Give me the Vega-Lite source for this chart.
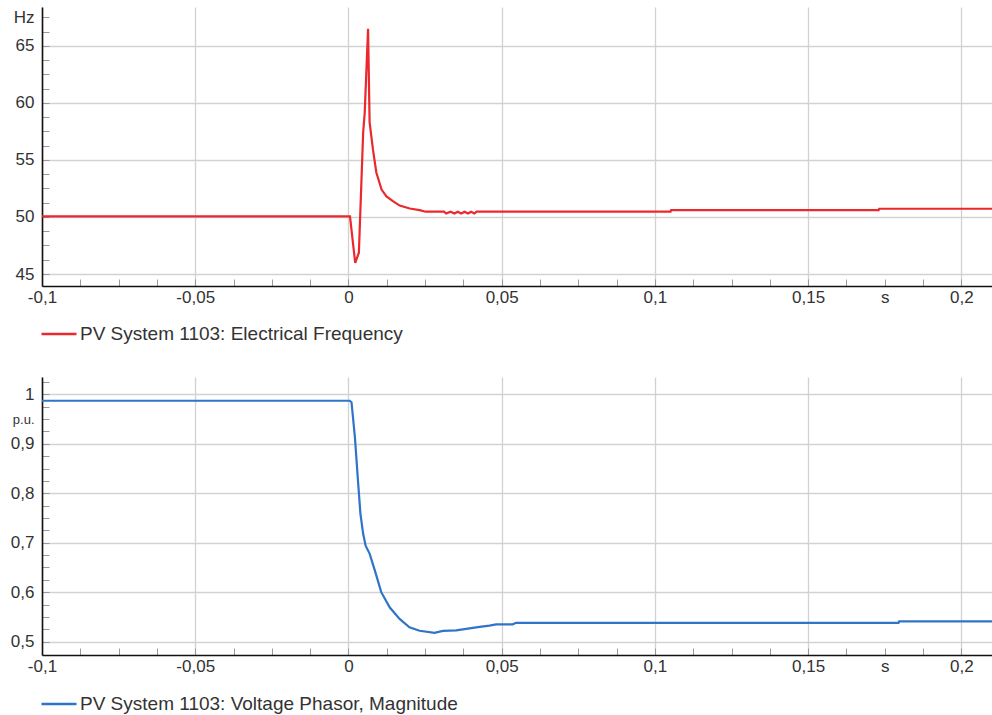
{
  "$schema": "https://vega.github.io/schema/vega-lite/v6.json",
  "padding": {"left": 10, "top": 7, "right": 0, "bottom": 0},
  "background": "white",
  "spacing": 28,
  "config": {
    "font": "Liberation Sans",
    "view": {"stroke": null},
    "axis": {
      "labelFont": "Liberation Sans",
      "labelFontSize": 17,
      "labelColor": "#333333",
      "labelOverlap": false,
      "labelFlush": false,
      "domainColor": "#111111",
      "domainWidth": 1.6,
      "tickColor": "#9a9a9a",
      "tickWidth": 1,
      "tickSize": -7,
      "gridColor": "#d2d2d2",
      "gridWidth": 1.3,
      "title": null
    },
    "legend": {
      "orient": "none",
      "legendX": -2,
      "legendY": 308,
      "title": null,
      "symbolType": "stroke",
      "symbolSize": 1225,
      "symbolStrokeWidth": 2.5,
      "labelFont": "Liberation Sans",
      "labelFontSize": 19,
      "labelColor": "#333333",
      "labelOffset": 2,
      "labelLimit": 0,
      "padding": 0
    }
  },
  "datasets": {
    "freq": [
      {"t": -0.1, "f": 50.05},
      {"t": 0.0005, "f": 50.05},
      {"t": 0.0022, "f": 45.98},
      {"t": 0.0034, "f": 46.87},
      {"t": 0.0048, "f": 57.4},
      {"t": 0.0053, "f": 59.1},
      {"t": 0.0064, "f": 66.5},
      {"t": 0.0069, "f": 58.3},
      {"t": 0.008, "f": 55.9},
      {"t": 0.0091, "f": 53.9},
      {"t": 0.0108, "f": 52.4},
      {"t": 0.0124, "f": 51.8},
      {"t": 0.0145, "f": 51.38},
      {"t": 0.0167, "f": 51.0},
      {"t": 0.02, "f": 50.74},
      {"t": 0.0232, "f": 50.6},
      {"t": 0.0252, "f": 50.46},
      {"t": 0.0312, "f": 50.46},
      {"t": 0.0319, "f": 50.3},
      {"t": 0.0333, "f": 50.46},
      {"t": 0.0346, "f": 50.3},
      {"t": 0.0357, "f": 50.46},
      {"t": 0.0368, "f": 50.3},
      {"t": 0.0379, "f": 50.46},
      {"t": 0.039, "f": 50.3},
      {"t": 0.04, "f": 50.46},
      {"t": 0.0411, "f": 50.3},
      {"t": 0.0418, "f": 50.46},
      {"t": 0.1051, "f": 50.46},
      {"t": 0.1053, "f": 50.6},
      {"t": 0.173, "f": 50.6},
      {"t": 0.1732, "f": 50.72},
      {"t": 0.21, "f": 50.72}
    ],
    "volt": [
      {"t": -0.1, "v": 0.987},
      {"t": 0.0004, "v": 0.987},
      {"t": 0.001, "v": 0.984},
      {"t": 0.0021, "v": 0.914},
      {"t": 0.0031, "v": 0.826},
      {"t": 0.0039, "v": 0.759},
      {"t": 0.0048, "v": 0.718},
      {"t": 0.0056, "v": 0.694},
      {"t": 0.0069, "v": 0.678},
      {"t": 0.0086, "v": 0.644},
      {"t": 0.0107, "v": 0.6},
      {"t": 0.0135, "v": 0.569},
      {"t": 0.0167, "v": 0.546},
      {"t": 0.0199, "v": 0.529},
      {"t": 0.0232, "v": 0.522},
      {"t": 0.0281, "v": 0.5176},
      {"t": 0.0308, "v": 0.5217},
      {"t": 0.0352, "v": 0.5229},
      {"t": 0.0384, "v": 0.5257},
      {"t": 0.0428, "v": 0.5298},
      {"t": 0.046, "v": 0.5324},
      {"t": 0.0482, "v": 0.535},
      {"t": 0.0536, "v": 0.535},
      {"t": 0.0547, "v": 0.538},
      {"t": 0.1795, "v": 0.538},
      {"t": 0.1797, "v": 0.541},
      {"t": 0.21, "v": 0.541}
    ]
  },
  "resolve": {"scale": {"color": "independent", "y": "independent"}, "legend": {"color": "independent"}},
  "vconcat": [
    {
      "width": 950,
      "height": 279,
      "data": {"name": "freq"},
      "mark": {"type": "line", "strokeWidth": 2.2, "clip": true},
      "encoding": {
        "x": {
          "field": "t",
          "type": "quantitative",
          "scale": {"domain": [-0.1, 0.21], "nice": false, "zero": false},
          "axis": {
            "values": [-0.1, -0.0875, -0.075, -0.0625, -0.05, -0.0375, -0.025, -0.0125, 0, 0.0125, 0.025, 0.0375, 0.05, 0.0625, 0.075, 0.0875, 0.1, 0.1125, 0.125, 0.1375, 0.15, 0.1625, 0.175, 0.1875, 0.2],
            "labelPadding": 10,
            "labelExpr": "datum.value == 0.175 ? 's' : (indexof([-0.1, -0.05, 0, 0.05, 0.1, 0.15, 0.2], datum.value) >= 0 ? replace('' + datum.value, '.', ',') : '')",
            "gridOpacity": {"condition": {"test": "indexof([-0.1, -0.05, 0, 0.05, 0.1, 0.15, 0.2], datum.value) < 0", "value": 0}, "value": 1}
          }
        },
        "y": {
          "field": "f",
          "type": "quantitative",
          "scale": {"domain": [43.95, 68.4], "nice": false, "zero": false},
          "axis": {
            "values": [45, 46.25, 47.5, 48.75, 50, 51.25, 52.5, 53.75, 55, 56.25, 57.5, 58.75, 60, 61.25, 62.5, 63.75, 65, 66.25, 67.5],
            "labelPadding": 15,
            "minExtent": 32,
            "maxExtent": 32,
            "labelExpr": "datum.value == 67.5 ? 'Hz' : (indexof([45, 50, 55, 60, 65], datum.value) >= 0 ? '' + datum.value : '')",
            "gridOpacity": {"condition": {"test": "indexof([45, 50, 55, 60, 65], datum.value) < 0", "value": 0}, "value": 1}
          }
        },
        "color": {
          "datum": "PV System 1103: Electrical Frequency",
          "scale": {"range": ["#ea282d"]}
        }
      }
    },
    {
      "width": 950,
      "height": 278,
      "data": {"name": "volt"},
      "mark": {"type": "line", "strokeWidth": 2.2, "clip": true},
      "encoding": {
        "x": {
          "field": "t",
          "type": "quantitative",
          "scale": {"domain": [-0.1, 0.21], "nice": false, "zero": false},
          "axis": {
            "values": [-0.1, -0.0875, -0.075, -0.0625, -0.05, -0.0375, -0.025, -0.0125, 0, 0.0125, 0.025, 0.0375, 0.05, 0.0625, 0.075, 0.0875, 0.1, 0.1125, 0.125, 0.1375, 0.15, 0.1625, 0.175, 0.1875, 0.2],
            "labelPadding": 10,
            "labelExpr": "datum.value == 0.175 ? 's' : (indexof([-0.1, -0.05, 0, 0.05, 0.1, 0.15, 0.2], datum.value) >= 0 ? replace('' + datum.value, '.', ',') : '')",
            "gridOpacity": {"condition": {"test": "indexof([-0.1, -0.05, 0, 0.05, 0.1, 0.15, 0.2], datum.value) < 0", "value": 0}, "value": 1}
          }
        },
        "y": {
          "field": "v",
          "type": "quantitative",
          "scale": {"domain": [0.473, 1.035], "nice": false, "zero": false},
          "axis": {
            "values": [0.5, 0.525, 0.55, 0.575, 0.6, 0.625, 0.65, 0.675, 0.7, 0.725, 0.75, 0.775, 0.8, 0.825, 0.85, 0.875, 0.9, 0.925, 0.95, 0.975, 1, 1.025],
            "labelPadding": 15,
            "minExtent": 32,
            "maxExtent": 32,
            "labelExpr": "datum.value == 0.95 ? 'p.u.' : (indexof([0.5, 0.6, 0.7, 0.8, 0.9, 1], datum.value) >= 0 ? replace('' + datum.value, '.', ',') : '')",
            "labelFontSize": {"condition": {"test": "datum.value == 0.95", "value": 13}, "value": 17},
            "gridOpacity": {"condition": {"test": "indexof([0.5, 0.6, 0.7, 0.8, 0.9, 1], datum.value) < 0", "value": 0}, "value": 1}
          }
        },
        "color": {
          "datum": "PV System 1103: Voltage Phasor, Magnitude",
          "scale": {"range": ["#2f74c8"]}
        }
      }
    }
  ]
}
